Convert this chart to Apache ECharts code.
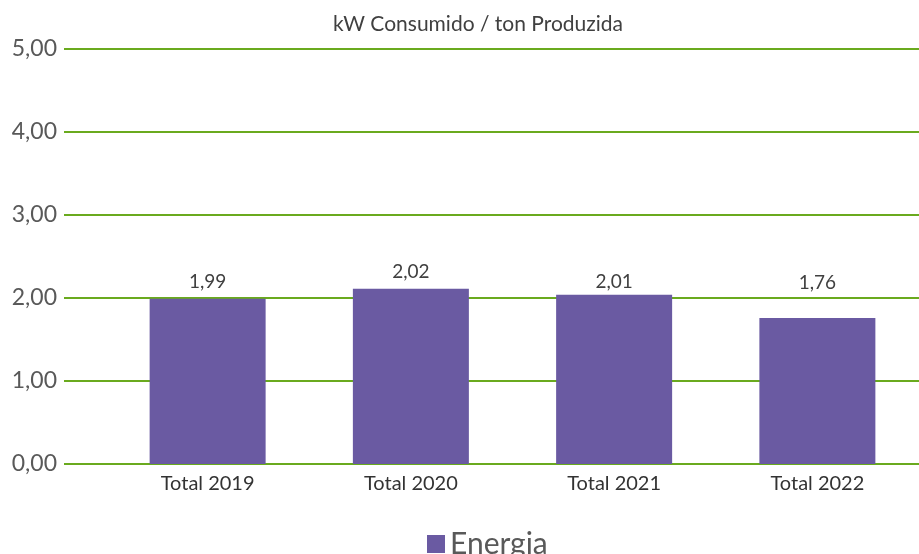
<!DOCTYPE html>
<html><head><meta charset="utf-8">
<script src="https://cdn.jsdelivr.net/npm/echarts@6/dist/echarts.min.js"></script>
<style>html,body{margin:0;padding:0;background:#fff}#c{width:919px;height:554px}</style>
</head><body><div id="c"></div>
<script>
const categories = ['Total 2019', 'Total 2020', 'Total 2021', 'Total 2022'];
const barValues = [1.99, 2.11, 2.04, 1.76];
const labelTexts = ['1,99', '2,02', '2,01', '1,76'];
const yTicks = [0, 1, 2, 3, 4, 5];
const seriesName = 'Energia';
const titleText = 'kW Consumido / ton Produzida';

const labelDistance = [7, 7, 3, 26];
const font = 'Lato, "Open Sans", sans-serif';
const fmt = v => v.toFixed(2).replace('.', ',');

const chart = echarts.init(document.getElementById('c'), null, {renderer: 'canvas'});
chart.setOption({
  animation: false,
  title: {text: titleText, left: 473, top: 9, textAlign: 'center',
    textStyle: {fontFamily: font, fontSize: 21, fontWeight: 'normal', color: '#404040'}},
  legend: {left: 422, top: 524, itemWidth: 18, itemHeight: 18, itemGap: 8,
    icon: 'rect', data: [seriesName],
    textStyle: {fontFamily: font, fontSize: 30, color: '#595959'}},
  grid: [
    {left: 64, right: 0, top: 49, bottom: 90},
    {left: 106, right: 0, top: 49, bottom: 90}
  ],
  xAxis: [
    {type: 'category', gridIndex: 0, data: [''], show: false},
    {type: 'category', gridIndex: 1, data: categories,
      axisLine: {show: false}, axisTick: {show: false},
      axisLabel: {margin: 10, fontFamily: font, fontSize: 20, color: '#333'}}
  ],
  yAxis: [
    {type: 'value', gridIndex: 0, min: yTicks[0], max: yTicks[yTicks.length-1], interval: 1,
      axisLine: {show: false}, axisTick: {show: false},
      axisLabel: {margin: 7, fontFamily: font, fontSize: 23, color: '#595959', formatter: fmt},
      splitLine: {lineStyle: {color: '#6aaa1e', width: 2}}},
    {type: 'value', gridIndex: 1, min: yTicks[0], max: yTicks[yTicks.length-1], interval: 1,
      show: false, splitLine: {show: false}}
  ],
  series: [{
    type: 'bar', name: seriesName, xAxisIndex: 1, yAxisIndex: 1,
    barWidth: 116, z: 3,
    itemStyle: {color: '#6a5aa2'},
    data: barValues.map((v, i) => ({value: v,
      label: {distance: labelDistance[i]}})),
    label: {show: true, position: 'top', fontFamily: font, fontSize: 19, color: '#404040',
      formatter: p => labelTexts[p.dataIndex]}
  }]
});
</script></body></html>
